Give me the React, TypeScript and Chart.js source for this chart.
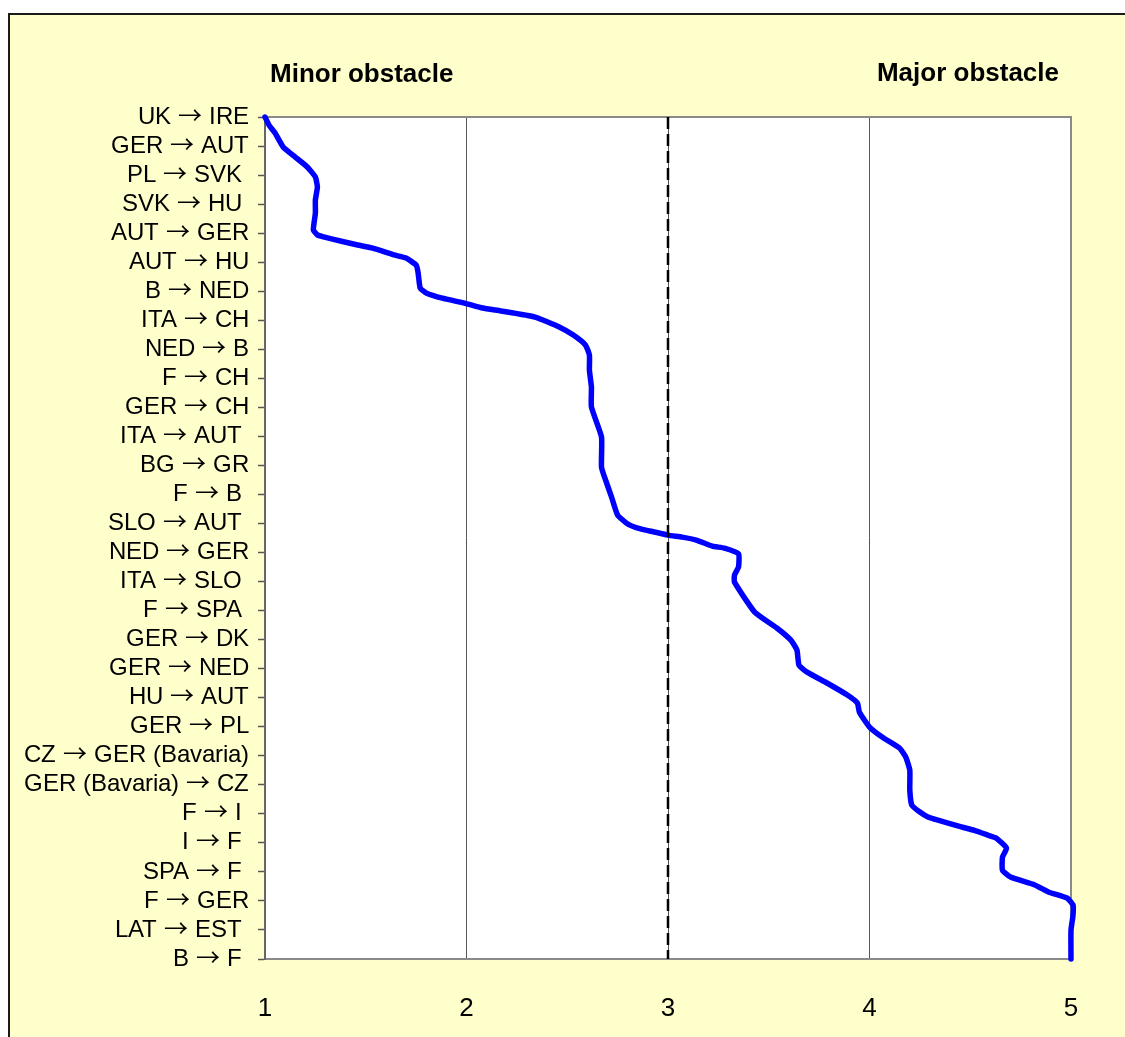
import React, { useEffect, useRef } from "react";
import { Chart, registerables } from "chart.js";

Chart.register(...registerables);

// Border crossings, listed top to bottom
const routes = [
  "UK → IRE",
  "GER → AUT",
  "PL → SVK ",
  "SVK → HU ",
  "AUT → GER",
  "AUT → HU",
  "B → NED",
  "ITA → CH",
  "NED → B",
  "F → CH",
  "GER → CH",
  "ITA → AUT ",
  "BG → GR",
  "F → B ",
  "SLO → AUT ",
  "NED → GER",
  "ITA → SLO ",
  "F → SPA ",
  "GER → DK",
  "GER → NED",
  "HU → AUT",
  "GER → PL",
  "CZ → GER (Bavaria)",
  "GER (Bavaria) → CZ",
  "F → I ",
  "I → F ",
  "SPA → F ",
  "F → GER",
  "LAT → EST ",
  "B → F ",
];

// Obstacle scale ticks (1 = minor, 5 = major)
const scaleTicks = [1, 2, 3, 4, 5];
const minorHeading = "Minor obstacle";
const majorHeading = "Major obstacle";

// Traced obstacle curve: score and position along the route list (row index)
const curveScore = [
  1.0, 1.02, 1.05, 1.09, 1.15, 1.21, 1.25, 1.26, 1.25, 1.25, 1.24, 1.26, 1.29, 1.33,
  1.46, 1.53, 1.64, 1.7, 1.75, 1.76, 1.77, 1.8, 1.88, 1.99, 2.08, 2.17, 2.34, 2.46,
  2.53, 2.59, 2.61, 2.61, 2.62, 2.62, 2.67, 2.67, 2.69, 2.72, 2.75, 2.8, 2.85, 2.91,
  3.0, 3.07, 3.14, 3.22, 3.28, 3.35, 3.35, 3.33, 3.33, 3.43, 3.54, 3.61, 3.64, 3.65,
  3.69, 3.78, 3.89, 3.94, 3.95, 4.0, 4.07, 4.15, 4.18, 4.2, 4.2, 4.21, 4.25, 4.29,
  4.34, 4.39, 4.46, 4.52, 4.59, 4.63, 4.68, 4.66, 4.66, 4.7, 4.82, 4.89, 4.98, 5.01,
  5.01, 5.0, 5.0,
];
const curveRow = [
  0, 0.28, 0.55, 1.03, 1.38, 1.72, 2.07, 2.41, 2.86, 3.31, 3.89, 4.06, 4.13, 4.2,
  4.41, 4.51, 4.75, 4.86, 5.1, 5.37, 5.89, 6.06, 6.24, 6.41, 6.58, 6.68, 6.89, 7.23,
  7.51, 7.85, 8.2, 8.72, 9.3, 9.99, 11.02, 12.06, 12.5, 13.09, 13.71, 14.02, 14.16, 14.26,
  14.4, 14.47, 14.57, 14.78, 14.85, 15.05, 15.5, 15.78, 16.02, 17.05, 17.6, 18.02, 18.36, 18.88,
  19.12, 19.46, 19.91, 20.19, 20.5, 21.01, 21.39, 21.74, 22.05, 22.49, 23.18, 23.7, 23.94, 24.11,
  24.22, 24.32, 24.46, 24.57, 24.74, 24.84, 25.18, 25.49, 25.94, 26.18, 26.45, 26.7, 26.9, 27.14,
  27.49, 28.01, 29.0,
];

// Dashed midpoint marker
const midScore = [3, 3];
const midRow = [0, 29];

const FONT = "'Liberation Sans', Arial, Helvetica, sans-serif";
// Route labels: Liberation Sans letters with a long, thin arrow glyph
const ROUTE_FONT = "RouteSans, 'Liberation Sans', Arial, sans-serif";

const fontCss = `
@font-face { font-family: RouteSans; src: local("Liberation Sans"), local("LiberationSans"); }
@font-face {
  font-family: RouteSans;
  src: local("Noto Sans CJK JP Regular"), local("NotoSansCJKjp-Regular"), local("Noto Sans CJK JP"), local("DejaVu Sans");
  unicode-range: U+2190-21FF;
}
`;

const plotFrame = {
  id: "plotFrame",
  beforeDraw(chart: any) {
    const { ctx, chartArea: a } = chart;
    ctx.save();
    ctx.fillStyle = "#ffffff";
    ctx.fillRect(a.left, a.top, a.right - a.left, a.bottom - a.top);
    ctx.restore();
  },
  beforeDatasetsDraw(chart: any) {
    const { ctx, chartArea: a } = chart;
    ctx.save();
    ctx.strokeStyle = "#8a8a8a";
    ctx.lineWidth = 2;
    ctx.beginPath();
    ctx.moveTo(a.left, a.top);
    ctx.lineTo(a.right, a.top);
    ctx.lineTo(a.right, a.bottom);
    ctx.stroke();
    ctx.restore();
  },
  afterDraw(chart: any) {
    const { ctx, chartArea: a } = chart;
    ctx.save();
    ctx.fillStyle = "#000";
    ctx.font = `bold 26px ${FONT}`;
    ctx.textBaseline = "alphabetic";
    ctx.textAlign = "left";
    ctx.fillText(minorHeading, a.left + 5, 82);
    ctx.textAlign = "right";
    ctx.fillText(majorHeading, a.right - 12, 81);
    ctx.restore();
  },
};

function buildChart(canvas: HTMLCanvasElement) {
  const curve = curveScore.map((s, i) => ({ x: s, y: curveRow[i] }));
  const mid = midScore.map((s, i) => ({ x: s, y: midRow[i] }));

  return new Chart(canvas, {
    type: "line",
    data: {
      datasets: [
        {
          label: "Midpoint",
          data: mid,
          borderColor: "#000",
          borderWidth: 2.5,
          borderDash: [12, 5],
          pointRadius: 0,
          fill: false,
          order: 0,
          clip: false,
        },
        {
          label: "Obstacle",
          data: curve,
          borderColor: "#0000ff",
          borderWidth: 5.5,
          borderJoinStyle: "round",
          borderCapStyle: "round",
          tension: 0.15,
          pointRadius: 0,
          fill: false,
          order: 1,
          clip: false,
        },
      ],
    } as any,
    options: {
      responsive: false,
      animation: false,
      layout: { padding: { top: 117, right: 54, bottom: 0, left: 0 } },
      plugins: {
        legend: { display: false },
        tooltip: { enabled: false },
        title: { display: false },
      },
      scales: {
        x: {
          type: "linear",
          position: "bottom",
          min: scaleTicks[0],
          max: scaleTicks[scaleTicks.length - 1],
          afterBuildTicks: (scale: any) => {
            scale.ticks = scaleTicks.map((v) => ({ value: v }));
          },
          afterFit: (scale: any) => {
            scale.height = 78;
          },
          ticks: {
            color: "#000",
            font: { family: FONT, size: 26 },
            padding: 34,
            maxRotation: 0,
          },
          grid: {
            drawTicks: false,
            lineWidth: 1,
            color: (ctx: any) => {
              const v = ctx.tick ? ctx.tick.value : 0;
              return v > scaleTicks[0] && v < scaleTicks[scaleTicks.length - 1]
                ? "#555555"
                : "rgba(0,0,0,0)";
            },
          },
          border: { display: true, color: "#8a8a8a", width: 2 },
        },
        y: {
          type: "linear",
          position: "left",
          reverse: true,
          min: 0,
          max: routes.length - 1,
          afterBuildTicks: (scale: any) => {
            scale.ticks = routes.map((_, i) => ({ value: i }));
          },
          afterFit: (scale: any) => {
            scale.width = 265;
          },
          ticks: {
            color: "#000",
            font: { family: ROUTE_FONT, size: 24 },
            padding: 9,
            autoSkip: false,
            callback: (v: any) => routes[Math.round(Number(v))] ?? "",
          },
          grid: {
            drawOnChartArea: false,
            drawTicks: true,
            tickLength: 7,
            tickColor: "#555",
            tickWidth: 1.5,
          },
          border: { display: true, color: "#666", width: 2 },
        },
      },
    } as any,
    plugins: [plotFrame],
  });
}

export default function App() {
  const canvasRef = useRef<HTMLCanvasElement | null>(null);

  useEffect(() => {
    const style = document.createElement("style");
    style.textContent = fontCss;
    document.head.appendChild(style);

    let chart: Chart | null = null;
    let cancelled = false;
    const start = () => {
      if (cancelled || chart || !canvasRef.current) return;
      chart = buildChart(canvasRef.current);
    };
    const fonts: any = (document as any).fonts;
    if (fonts && fonts.load) {
      Promise.all([
        fonts.load("24px RouteSans", "UK → IRE"),
        fonts.load(`bold 26px 'Liberation Sans'`, "Minor obstacle"),
      ])
        .then(start, start);
    } else {
      start();
    }

    return () => {
      cancelled = true;
      if (chart) chart.destroy();
      style.remove();
    };
  }, []);

  return (
    <div
      style={{
        position: "fixed",
        left: 0,
        top: 0,
        width: 1125,
        height: 1037,
        overflow: "hidden",
        background: "#ffffff",
      }}
    >
      <div
        style={{
          position: "absolute",
          left: 8,
          top: 13,
          width: 1200,
          height: 1100,
          border: "2px solid #1a1a1a",
          background: "#ffffcc",
        }}
      />
      <canvas
        ref={canvasRef}
        width={1125}
        height={1037}
        style={{ position: "absolute", left: 0, top: 0, width: 1125, height: 1037 }}
      />
    </div>
  );
}
